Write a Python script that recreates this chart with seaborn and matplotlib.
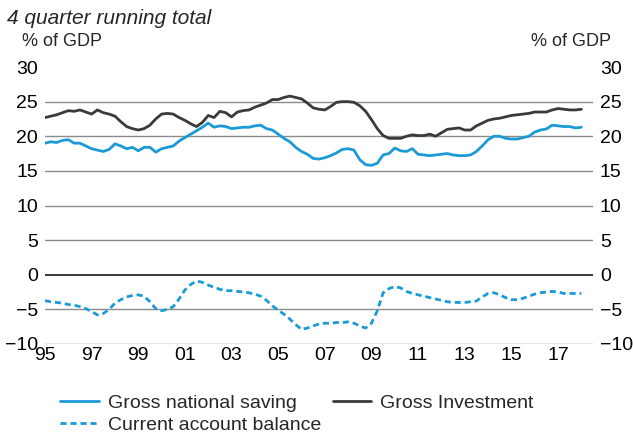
import numpy as np
import pandas as pd
import seaborn as sns
import matplotlib.pyplot as plt
from matplotlib.lines import Line2D

# Quarterly observations, 1995 Q1 to 2018 Q1 (4 quarter running totals, % of GDP)
quarters = np.arange(1995.0, 2018.01, 0.25)

saving = [
    19.0, 19.2, 19.1, 19.4, 19.5, 19.0, 19.0, 18.6, 18.2, 18.0, 17.8, 18.1,
    18.9, 18.6, 18.2, 18.4, 17.9, 18.4, 18.4, 17.7, 18.2, 18.4, 18.6, 19.3,
    19.8, 20.3, 20.8, 21.3, 21.9, 21.3, 21.5, 21.4, 21.1, 21.2, 21.3, 21.3,
    21.5, 21.6, 21.1, 20.9, 20.3, 19.7, 19.2, 18.4, 17.8, 17.4, 16.8, 16.7,
    16.9, 17.2, 17.6, 18.1, 18.2, 18.0, 16.6, 15.9, 15.8, 16.1, 17.3, 17.5,
    18.3, 17.9, 17.8, 18.2, 17.4, 17.3, 17.2, 17.3, 17.4, 17.5, 17.3, 17.2,
    17.2, 17.3, 17.8, 18.6, 19.5, 20.0, 20.0, 19.7, 19.6, 19.6, 19.8, 20.0,
    20.6, 20.9, 21.05, 21.6, 21.5, 21.4, 21.4, 21.2, 21.3,
]

investment = [
    22.7, 22.9, 23.1, 23.4, 23.7, 23.6, 23.8, 23.5, 23.2, 23.8, 23.4, 23.2,
    22.9, 22.1, 21.4, 21.1, 20.9, 21.1, 21.6, 22.5, 23.2, 23.3, 23.2, 22.7,
    22.3, 21.8, 21.4, 22.0, 23.0, 22.7, 23.6, 23.4, 22.8, 23.5, 23.7, 23.8,
    24.2, 24.5, 24.8, 25.3, 25.3, 25.6, 25.8, 25.6, 25.4, 24.8, 24.1, 23.9,
    23.8, 24.3, 24.9, 25.0, 25.0, 24.9, 24.4, 23.6, 22.4, 21.1, 20.1, 19.7,
    19.7, 19.7, 20.0, 20.2, 20.1, 20.1, 20.3, 20.0, 20.5, 21.0, 21.1, 21.2,
    20.9, 20.9, 21.5, 21.9, 22.3, 22.5, 22.6, 22.8, 23.0, 23.1, 23.2, 23.3,
    23.5, 23.5, 23.5, 23.8, 24.0, 23.9, 23.8, 23.8, 23.9,
]

current_account = [
    -3.75, -3.9, -4.0, -4.1, -4.3, -4.4, -4.6, -4.9, -5.3, -5.8, -5.6, -5.0,
    -4.1, -3.6, -3.2, -3.0, -2.9, -3.1, -3.9, -4.9, -5.2, -5.0, -4.6, -3.5,
    -2.2, -1.4, -0.9, -1.1, -1.5, -1.8, -2.1, -2.3, -2.3, -2.4, -2.5, -2.6,
    -2.8, -3.1, -3.7, -4.5, -5.1, -5.7, -6.4, -7.2, -7.9, -7.7, -7.4, -7.1,
    -7.0, -7.0, -6.9, -6.9, -6.8, -7.0, -7.4, -7.7, -7.0, -5.2, -2.6, -2.0,
    -1.7, -1.9, -2.4, -2.7, -2.9, -3.1, -3.3, -3.5, -3.7, -3.9, -4.0, -4.0,
    -4.0, -3.9, -3.8, -3.2, -2.7, -2.6, -2.9, -3.3, -3.6, -3.6, -3.4, -3.1,
    -2.8, -2.6, -2.5, -2.4, -2.5, -2.7, -2.7, -2.7, -2.7,
]

series_names = ["Gross national saving", "Gross Investment", "Current account balance"]
y_ticks = list(range(-10, 31, 5))
x_ticks = list(range(1995, 2018, 2))
x_labels = [f"{y % 100:02d}" for y in x_ticks]

BLUE = "#1B9AD6"
DARK = "#3A3A3A"

sns.set_theme(style="white")
plt.rcParams["font.family"] = ["Liberation Sans", "DejaVu Sans"]

df = pd.DataFrame({
    "quarter": np.tile(quarters, 3),
    "value": np.concatenate([saving, investment, current_account]),
    "series": np.repeat(series_names, len(quarters)),
})

fig = plt.figure(figsize=(6.33, 4.37), dpi=100)
ax = fig.add_axes([45 / 633, 1 - 344 / 437, (593 - 45) / 633, (344 - 67) / 437])

# horizontal grid, zero line in black
for v in y_ticks:
    if v == 30:
        continue
    ax.axhline(v, color="black" if v == 0 else "#8C8C8C",
               lw=1.1 if v == 0 else 1.0, zorder=1)

styles = {
    "Gross national saving": dict(color=BLUE, linestyle="-"),
    "Gross Investment": dict(color=DARK, linestyle="-"),
    "Current account balance": dict(color=BLUE, linestyle=(0, (2.2, 1.4))),
}
for name in series_names:
    sub = df[df["series"] == name]
    sns.lineplot(data=sub, x="quarter", y="value", ax=ax, lw=2.0,
                 zorder=3, legend=False, **styles[name])

ax.set_xlim(1995, 2018.5)
ax.set_ylim(-10, 30)
ax.set_xticks(x_ticks)
ax.set_xticklabels(x_labels)
ax.set_yticks(y_ticks)
ax.set_xlabel("")
ax.set_ylabel("")
for s in ax.spines.values():
    s.set_visible(False)
ax.tick_params(axis="both", length=0, labelsize=14, colors="black")
ax.tick_params(axis="x", pad=2)
ax.tick_params(axis="y", pad=5, labelleft=True, labelright=True)

fig.text(7 / 633, 1 - 18 / 437, "4 quarter running total", fontsize=15,
         style="italic", ha="left", va="center")
fig.text(22 / 633, 1 - 41 / 437, "% of GDP", fontsize=13, ha="left", va="center")
fig.text(611 / 633, 1 - 41 / 437, "% of GDP", fontsize=13, ha="right", va="center")

handles = [
    Line2D([], [], lw=2.0, **styles["Gross national saving"]),
    Line2D([], [], lw=2.0, **styles["Current account balance"]),
    Line2D([], [], lw=2.0, **styles["Gross Investment"]),
]
labels = ["Gross national saving", "Current account balance", "Gross Investment"]
fig.legend(handles, labels, loc="upper left", bbox_to_anchor=(60 / 633, 1 - 394 / 437),
           ncol=2, frameon=False, fontsize=14, handlelength=2.0, handletextpad=0.45,
           columnspacing=0.6, labelspacing=0.22, borderpad=0, borderaxespad=0)

fig.savefig("out.png", dpi=100)
